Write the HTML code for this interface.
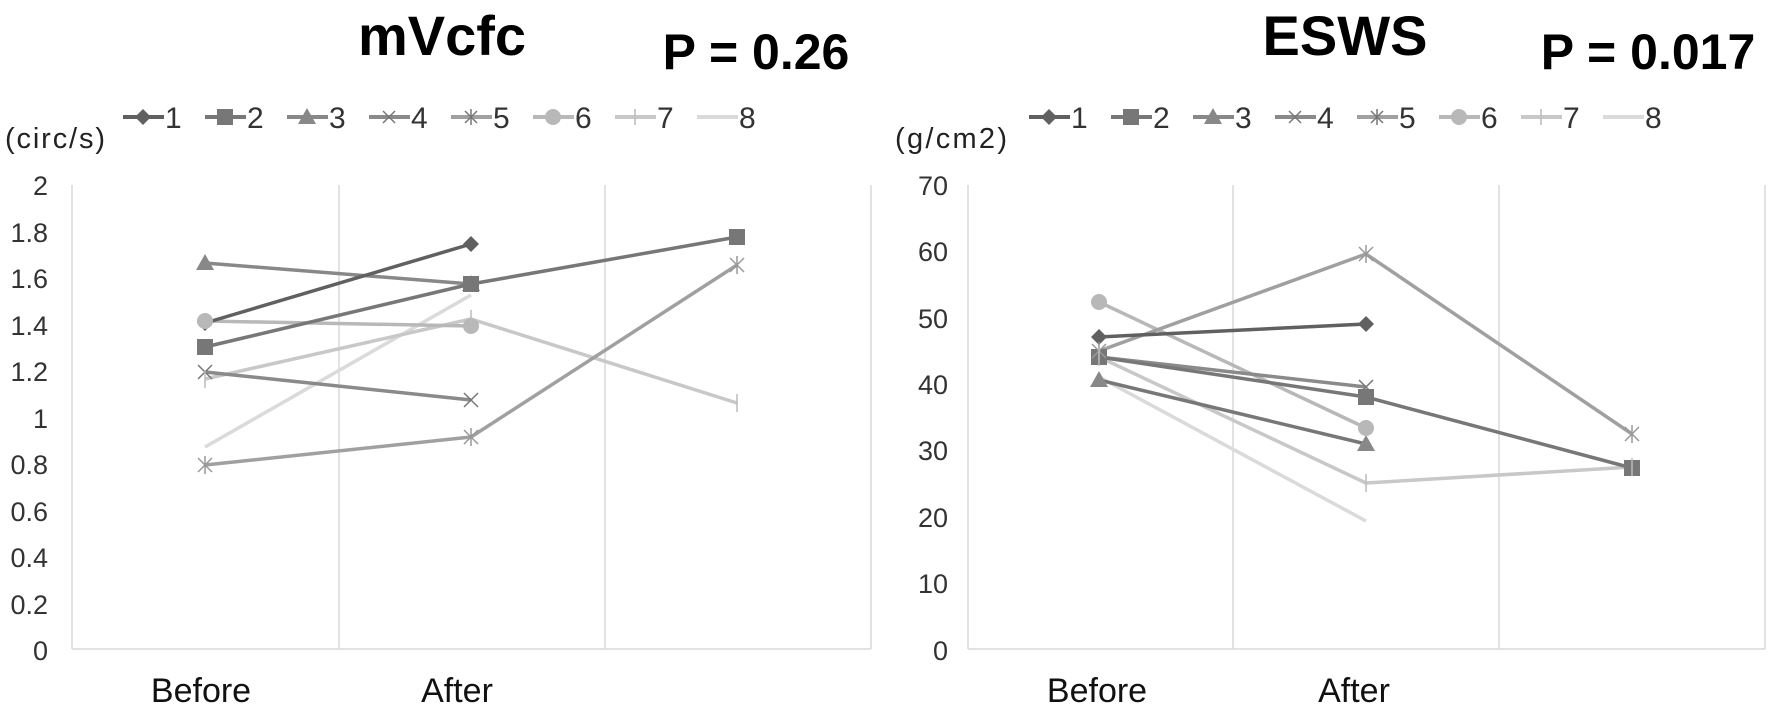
<!DOCTYPE html>
<html><head><meta charset="utf-8"><style>
html,body{margin:0;padding:0;background:#fff;}
svg{display:block;font-family:"Liberation Sans",sans-serif;}
</style></head><body>
<svg width="1772" height="709" viewBox="0 0 1772 709" xmlns="http://www.w3.org/2000/svg">
<defs>
<g id="mD"><path d="M0,-8 L8,0 L0,8 L-8,0Z"/></g>
<g id="mS"><rect x="-8" y="-8" width="16" height="16"/></g>
<g id="mT"><path d="M0,-9 L9,7 L-9,7Z"/></g>
<g id="mC"><circle r="8"/></g>
</defs>

<!-- LEFT CHART -->
<text x="442" y="55" font-size="56" font-weight="bold" text-anchor="middle" fill="#000">mVcfc</text>
<text x="756" y="69" font-size="50" font-weight="bold" text-anchor="middle" fill="#000">P = 0.26</text>
<text x="5" y="148" font-size="29" fill="#222" textLength="100">(circ/s)</text>

<g stroke="#d9d9d9" stroke-width="1.5">
<line x1="72" y1="185" x2="72" y2="649"/><line x1="339" y1="185" x2="339" y2="649"/>
<line x1="605" y1="185" x2="605" y2="649"/><line x1="871" y1="185" x2="871" y2="649"/>
<line x1="72" y1="649" x2="871" y2="649"/>
</g>
<g font-size="27" fill="#333" text-anchor="end">
<text x="48" y="195">2</text><text x="48" y="242">1.8</text><text x="48" y="288">1.6</text>
<text x="48" y="335">1.4</text><text x="48" y="381">1.2</text><text x="48" y="428">1</text>
<text x="48" y="474">0.8</text><text x="48" y="521">0.6</text><text x="48" y="567">0.4</text>
<text x="48" y="614">0.2</text><text x="48" y="660">0</text>
</g>
<g font-size="34" fill="#111" text-anchor="middle">
<text x="201" y="702">Before</text><text x="457" y="702">After</text>
</g>

<g fill="none" stroke-width="3.5" stroke-linejoin="round">
<polyline stroke="#dadada" points="205,447 471,295"/>
<polyline stroke="#c8c8c8" points="205,379 471,319 737,403"/>
<polyline stroke="#b8b8b8" points="205,321 471,326"/>
<polyline stroke="#a0a0a0" points="205,465 471,437 737,265"/>
<polyline stroke="#8a8a8a" points="205,372 471,400"/>
<polyline stroke="#888" points="205,263 471,284"/>
<polyline stroke="#777" points="205,347 471,284 737,237"/>
<polyline stroke="#606060" points="205,323 471,244"/>
</g>
<g>
<use href="#mD" x="205" y="323" fill="#606060"/><use href="#mD" x="471" y="244" fill="#606060"/>
<use href="#mT" x="205" y="263" fill="#888"/><use href="#mT" x="471" y="284" fill="#888"/>
<use href="#mS" x="205" y="347" fill="#777"/><use href="#mS" x="471" y="284" fill="#777"/><use href="#mS" x="737" y="237" fill="#777"/>
<use href="#mC" x="205" y="321" fill="#b8b8b8"/><use href="#mC" x="471" y="326" fill="#b8b8b8"/>
</g>
<g stroke-width="1.5" fill="none">
<path stroke="#777" d="M198,365 l14,14 M212,365 l-14,14 M464,393 l14,14 M478,393 l-14,14"/>
<path stroke="#999" d="M198,458 l14,14 M212,458 l-14,14 M205,456 v18 M464,430 l14,14 M478,430 l-14,14 M471,428 v18 M730,258 l14,14 M744,258 l-14,14 M737,256 v18"/>
<path stroke="#bbb" d="M205,370 v18 M471,310 v18 M737,394 v18"/>
</g>

<!-- left legend -->
<g stroke-width="4">
<line x1="123" y1="117" x2="164" y2="117" stroke="#606060"/>
<line x1="205" y1="117" x2="246" y2="117" stroke="#777"/>
<line x1="287" y1="117" x2="328" y2="117" stroke="#888"/>
<line x1="369" y1="117" x2="410" y2="117" stroke="#8a8a8a"/>
<line x1="451" y1="117" x2="492" y2="117" stroke="#a0a0a0"/>
<line x1="533" y1="117" x2="574" y2="117" stroke="#b8b8b8"/>
<line x1="615" y1="117" x2="656" y2="117" stroke="#c8c8c8"/>
<line x1="697" y1="117" x2="738" y2="117" stroke="#dadada"/>
</g>
<use href="#mD" x="143" y="117" fill="#606060"/>
<use href="#mS" x="225" y="117" fill="#777"/>
<use href="#mT" x="307" y="117" fill="#888"/>
<use href="#mC" x="553" y="117" fill="#b8b8b8"/>
<path stroke="#777" stroke-width="1.5" d="M383,111 l12,12 M395,111 l-12,12 M465,111 l12,12 M477,111 l-12,12 M471,109 v16" fill="none"/>
<path stroke="#bbb" stroke-width="1.5" d="M635,109 v16"/>
<g font-size="30" fill="#333">
<text x="165" y="128">1</text><text x="247" y="128">2</text><text x="329" y="128">3</text><text x="411" y="128">4</text>
<text x="493" y="128">5</text><text x="575" y="128">6</text><text x="657" y="128">7</text><text x="739" y="128">8</text>
</g>

<!-- RIGHT CHART -->
<text x="1345" y="55" font-size="56" font-weight="bold" text-anchor="middle" fill="#000">ESWS</text>
<text x="1648" y="69" font-size="50" font-weight="bold" text-anchor="middle" fill="#000">P = 0.017</text>
<text x="895" y="148" font-size="29" fill="#222" textLength="112">(g/cm2)</text>

<g stroke="#d9d9d9" stroke-width="1.5">
<line x1="968" y1="185" x2="968" y2="649"/><line x1="1233" y1="185" x2="1233" y2="649"/>
<line x1="1499" y1="185" x2="1499" y2="649"/><line x1="1765" y1="185" x2="1765" y2="649"/>
<line x1="968" y1="649" x2="1765" y2="649"/>
</g>
<g font-size="27" fill="#333" text-anchor="end">
<text x="948" y="195">70</text><text x="948" y="261">60</text><text x="948" y="328">50</text>
<text x="948" y="394">40</text><text x="948" y="460">30</text><text x="948" y="527">20</text>
<text x="948" y="593">10</text><text x="948" y="660">0</text>
</g>
<g font-size="34" fill="#111" text-anchor="middle">
<text x="1097" y="702">Before</text><text x="1354" y="702">After</text>
</g>

<g fill="none" stroke-width="3.5" stroke-linejoin="round">
<polyline stroke="#dadada" points="1099,377 1366,521"/>
<polyline stroke="#c8c8c8" points="1099,357 1366,483 1632,467"/>
<polyline stroke="#b8b8b8" points="1099,302 1366,428"/>
<polyline stroke="#a0a0a0" points="1099,351 1366,254 1632,434"/>
<polyline stroke="#8a8a8a" points="1099,357 1366,387"/>
<polyline stroke="#777" points="1099,380 1366,444"/>
<polyline stroke="#777" points="1099,357 1366,397 1632,468"/>
<polyline stroke="#606060" points="1099,337 1366,324"/>
</g>
<g>
<use href="#mD" x="1099" y="337" fill="#606060"/><use href="#mD" x="1366" y="324" fill="#606060"/>
<use href="#mS" x="1099" y="357" fill="#777"/><use href="#mS" x="1366" y="397" fill="#777"/><use href="#mS" x="1632" y="468" fill="#777"/>
<use href="#mT" x="1099" y="380" fill="#888"/><use href="#mT" x="1366" y="444" fill="#888"/>
<use href="#mC" x="1099" y="302" fill="#b8b8b8"/><use href="#mC" x="1366" y="428" fill="#b8b8b8"/>
</g>
<g stroke-width="1.5" fill="none">
<path stroke="#777" d="M1092,350 l14,14 M1106,350 l-14,14 M1359,380 l14,14 M1373,380 l-14,14"/>
<path stroke="#999" d="M1092,344 l14,14 M1106,344 l-14,14 M1099,342 v18 M1359,247 l14,14 M1373,247 l-14,14 M1366,245 v18 M1625,427 l14,14 M1639,427 l-14,14 M1632,425 v18"/>
<path stroke="#bbb" d="M1099,348 v18 M1366,474 v18 M1632,458 v18"/>
</g>

<!-- right legend -->
<g stroke-width="4">
<line x1="1029" y1="117" x2="1070" y2="117" stroke="#606060"/>
<line x1="1111" y1="117" x2="1152" y2="117" stroke="#777"/>
<line x1="1193" y1="117" x2="1234" y2="117" stroke="#888"/>
<line x1="1275" y1="117" x2="1316" y2="117" stroke="#8a8a8a"/>
<line x1="1357" y1="117" x2="1398" y2="117" stroke="#a0a0a0"/>
<line x1="1439" y1="117" x2="1480" y2="117" stroke="#b8b8b8"/>
<line x1="1521" y1="117" x2="1562" y2="117" stroke="#c8c8c8"/>
<line x1="1603" y1="117" x2="1644" y2="117" stroke="#dadada"/>
</g>
<use href="#mD" x="1049" y="117" fill="#606060"/>
<use href="#mS" x="1131" y="117" fill="#777"/>
<use href="#mT" x="1213" y="117" fill="#888"/>
<use href="#mC" x="1459" y="117" fill="#b8b8b8"/>
<path stroke="#777" stroke-width="1.5" d="M1289,111 l12,12 M1301,111 l-12,12 M1371,111 l12,12 M1383,111 l-12,12 M1377,109 v16" fill="none"/>
<path stroke="#bbb" stroke-width="1.5" d="M1541,109 v16"/>
<g font-size="30" fill="#333">
<text x="1071" y="128">1</text><text x="1153" y="128">2</text><text x="1235" y="128">3</text><text x="1317" y="128">4</text>
<text x="1399" y="128">5</text><text x="1481" y="128">6</text><text x="1563" y="128">7</text><text x="1645" y="128">8</text>
</g>
</svg>
</body></html>
